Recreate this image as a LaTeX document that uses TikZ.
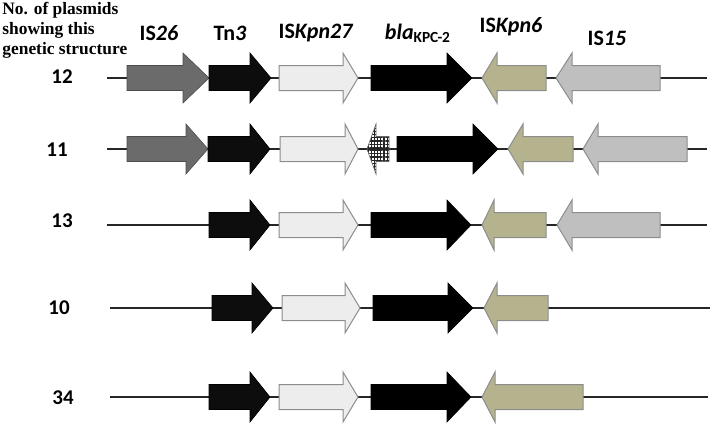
\documentclass[tikz,border=0pt]{standalone}
\usepackage{fontspec}
\setmainfont{Liberation Serif}
\newfontfamily\genefont{Carlito}
\usetikzlibrary{patterns.meta}

% one gene as a block arrow: y, start, head base, tip
\newcommand{\gene}[5][]{%
  \draw[#1] (#3,#2-12.5) -- (#4,#2-12.5) -- (#4,#2-25) -- (#5,#2)
    -- (#4,#2+25) -- (#4,#2+12.5) -- (#3,#2+12.5) -- cycle;}

\definecolor{khaki}{RGB}{181,178,142}
\definecolor{edgegray}{RGB}{140,140,140}

\begin{document}
\begin{tikzpicture}
  [x=0.5pt,y=-0.5pt,
   backbone/.style={line width=0.8pt,black!85},
   isgray/.style={fill=black!58,draw=black!70,line width=0.3pt},
   tnblack/.style={fill=black!95,draw=black,line width=0.3pt},
   kpnwhite/.style={fill=black!7,draw=edgegray,line width=0.5pt},
   blablack/.style={fill=black,draw=black,line width=0.3pt},
   kpnsix/.style={fill=khaki,draw=edgegray,line width=0.5pt},
   isfifteen/.style={fill=black!25,draw=edgegray,line width=0.5pt},
   hatchgene/.style={draw=black!60,line width=0.3pt,
     pattern={Hatch[angle=0,distance=1.6pt,line width=0.6pt]},pattern color=black!85},
   genelabel/.style={font=\genefont\bfseries\fontsize{11}{13}\selectfont,inner sep=0pt},
   countlabel/.style={font=\genefont\bfseries\fontsize{10.5}{12}\selectfont,inner sep=0pt}]

  \useasboundingbox (0,0) rectangle (712,429);

  %%%%%%%%%%%%%%%%%%%%%% HEADER %%%%%%%%%%%%%%%%%%%%%%
  \node (head) [anchor=west,align=left,inner sep=0pt,
     font=\bfseries\fontsize{8.7}{10}\selectfont] at (2,30)
     {No. of plasmids\\showing this\\genetic structure};

  \node[genelabel] (l_is26)  at (159,33) {IS\textit{26}};
  \node[genelabel] (l_tn3)   at (230,33) {Tn\textit{3}};
  \node[genelabel] (l_kpn27) at (316,33) {IS\textit{Kpn27}};
  \node[genelabel] (l_bla)   at (418,33) {\textit{bla}\textsubscript{KPC-2}};
  \node[genelabel] (l_kpn6)  at (511,27) {IS\textit{Kpn6}};
  \node[genelabel] (l_is15)  at (607,38) {IS\textit{15}};

  %%%%%%%%%%%%%%%%%%%%%% COUNTS %%%%%%%%%%%%%%%%%%%%%%
  \node[countlabel] (n_1) at (62,77)  {12};
  \node[countlabel] (n_2) at (57,150) {11};
  \node[countlabel] (n_3) at (62,221) {13};
  \node[countlabel] (n_4) at (59,308) {10};
  \node[countlabel] (n_5) at (63,398) {34};

  %%%%%%%%%%%%%%%%%%%%%% BACKBONES %%%%%%%%%%%%%%%%%%%%%%
  \coordinate (r1_s) at (107,78);  \coordinate (r1_e) at (707,78);
  \coordinate (r2_s) at (107,149); \coordinate (r2_e) at (707,149);
  \coordinate (r3_s) at (107,225); \coordinate (r3_e) at (707,225);
  \coordinate (r4_s) at (110,308); \coordinate (r4_e) at (710,308);
  \coordinate (r5_s) at (110,397); \coordinate (r5_e) at (708,397);

  \foreach \fromrow/\torow in {r1_s/r1_e,r2_s/r2_e,r3_s/r3_e,r4_s/r4_e,r5_s/r5_e}
    \draw[backbone] (\fromrow) -- (\torow);

  %%%%%%%%%%%%%%%%%%%%%% ROW 1 %%%%%%%%%%%%%%%%%%%%%%
  \gene[isgray]{78}{127}{183}{209}
  \gene[tnblack]{78}{209}{250}{271}
  \gene[kpnwhite]{78}{279}{343}{358}
  \gene[blablack]{78}{371}{447}{472}
  \gene[kpnsix]{78}{546}{497}{482}
  \gene[isfifteen]{78}{660}{572}{556}

  %%%%%%%%%%%%%%%%%%%%%% ROW 2 %%%%%%%%%%%%%%%%%%%%%%
  \gene[isgray]{149}{127}{186}{208}
  \gene[tnblack]{149}{208}{250}{270}
  \gene[kpnwhite]{149}{280}{345}{358}
  \gene[hatchgene]{149}{389}{376}{367}
  \gene[blablack]{149}{397}{473}{498}
  \gene[kpnsix]{149}{573}{523}{508}
  \gene[isfifteen]{149}{687}{598}{583}

  %%%%%%%%%%%%%%%%%%%%%% ROW 3 %%%%%%%%%%%%%%%%%%%%%%
  \gene[tnblack]{225}{209}{250}{270}
  \gene[kpnwhite]{225}{279}{343}{358}
  \gene[blablack]{225}{371}{447}{471}
  \gene[kpnsix]{225}{546}{494}{482}
  \gene[isfifteen]{225}{660}{572}{557}

  %%%%%%%%%%%%%%%%%%%%%% ROW 4 %%%%%%%%%%%%%%%%%%%%%%
  \gene[tnblack]{308}{212}{252}{273}
  \gene[kpnwhite]{308}{282}{345}{360}
  \gene[blablack]{308}{373}{448}{473}
  \gene[kpnsix]{308}{548}{497}{484}

  %%%%%%%%%%%%%%%%%%%%%% ROW 5 %%%%%%%%%%%%%%%%%%%%%%
  \gene[tnblack]{397}{209}{250}{270}
  \gene[kpnwhite]{397}{279}{343}{358}
  \gene[blablack]{397}{371}{447}{471}
  \gene[kpnsix]{397}{583}{495}{482}

\end{tikzpicture}
\end{document}
